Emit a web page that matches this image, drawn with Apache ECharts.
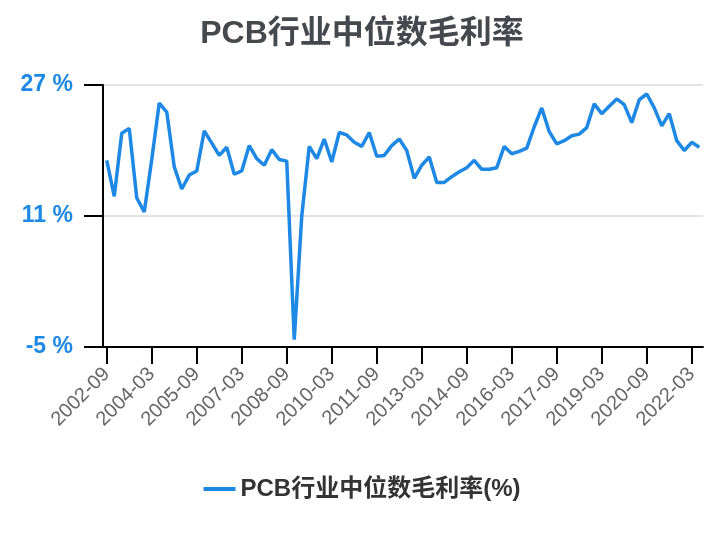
<!DOCTYPE html>
<html>
<head>
<meta charset="utf-8">
<script src="https://cdn.jsdelivr.net/npm/echarts@6/dist/echarts.min.js"></script>
<style>html,body{margin:0;padding:0;background:#fff}#c{width:724px;height:540px}</style>
</head>
<body>
<div id="c"></div>
<script>
var categories = [
'2002-09','2002-12','2003-03','2003-06','2003-09','2003-12','2004-03','2004-06','2004-09','2004-12',
'2005-03','2005-06','2005-09','2005-12','2006-03','2006-06','2006-09','2006-12','2007-03','2007-06',
'2007-09','2007-12','2008-03','2008-06','2008-09','2008-12','2009-03','2009-06','2009-09','2009-12',
'2010-03','2010-06','2010-09','2010-12','2011-03','2011-06','2011-09','2011-12','2012-03','2012-06',
'2012-09','2012-12','2013-03','2013-06','2013-09','2013-12','2014-03','2014-06','2014-09','2014-12',
'2015-03','2015-06','2015-09','2015-12','2016-03','2016-06','2016-09','2016-12','2017-03','2017-06',
'2017-09','2017-12','2018-03','2018-06','2018-09','2018-12','2019-03','2019-06','2019-09','2019-12',
'2020-03','2020-06','2020-09','2020-12','2021-03','2021-06','2021-09','2021-12','2022-03','2022-06'
];
var grossMargin = [
17.8,13.4,21.1,21.7,13.2,11.5,17.9,24.8,23.7,17.0,
14.3,16.0,16.5,21.4,19.9,18.4,19.4,16.1,16.5,19.6,
18.0,17.2,19.1,17.9,17.7,-4.1,11.0,19.5,18.0,20.4,
17.6,21.2,20.9,20.0,19.5,21.2,18.3,18.4,19.6,20.4,
19.0,15.6,17.2,18.2,15.1,15.1,15.8,16.4,16.9,17.8,
16.7,16.7,16.9,19.5,18.6,18.9,19.3,21.9,24.2,21.3,
19.8,20.2,20.8,21.0,21.8,24.7,23.5,24.4,25.3,24.6,
22.4,25.2,25.9,24.2,22.0,23.5,20.2,19.0,20.0,19.4
];
var yTicks = [-5, 11, 27];
var titleText = 'PCB行业中位数毛利率';
var seriesName = 'PCB行业中位数毛利率(%)';

var FONT = '"Liberation Sans", Arial, "Noto Sans CJK SC", sans-serif';
var chart = echarts.init(document.getElementById('c'));
chart.setOption({
  backgroundColor: '#fff',
  animation: false,
  title: {
    text: titleText, left: 'center', top: 13,
    textStyle: { fontFamily: FONT, fontSize: 32, fontWeight: 'bold', color: '#45484d' }
  },
  legend: {
    data: [{ name: seriesName, icon: 'path://M0,0 L32,0 L32,4 L0,4 Z' }], bottom: 34, left: 'center',
    itemWidth: 32, itemHeight: 4, itemGap: 10,
    textStyle: { fontFamily: FONT, fontSize: 24, fontWeight: 'bold', color: '#333' }
  },
  grid: { left: 103, right: 21, top: 85, bottom: 193, containLabel: false },
  xAxis: {
    type: 'category', data: categories, boundaryGap: true,
    axisLine: { show: true, onZero: false, lineStyle: { color: '#000', width: 2 } },
    axisTick: { show: true, alignWithLabel: true, interval: function (i) { return i % 6 === 0; },
      length: 17, lineStyle: { color: '#000', width: 2 } },
    axisLabel: { interval: function (i) { return i % 6 === 0; }, rotate: 45, margin: 24,
      fontFamily: FONT, fontSize: 20, color: '#666' }
  },
  yAxis: {
    type: 'value', min: yTicks[0], max: yTicks[2], interval: yTicks[1] - yTicks[0],
    axisLine: { show: true, lineStyle: { color: '#000', width: 2 } },
    axisTick: { show: true, length: 19, lineStyle: { color: '#000', width: 2 } },
    splitLine: { lineStyle: { color: '#e3e3e3', width: 2 } },
    axisLabel: { margin: 30, fontFamily: FONT, fontSize: 23, fontWeight: 'bold', color: '#1e88e5',
      formatter: function (v) { return v + ' %'; } }
  },
  series: [{
    name: seriesName, type: 'line', data: grossMargin,
    showSymbol: false, symbol: 'none',
    lineStyle: { color: '#1e88e5', width: 3.5 },
    itemStyle: { color: '#1e88e5' }
  }]
});
</script>
</body>
</html>
